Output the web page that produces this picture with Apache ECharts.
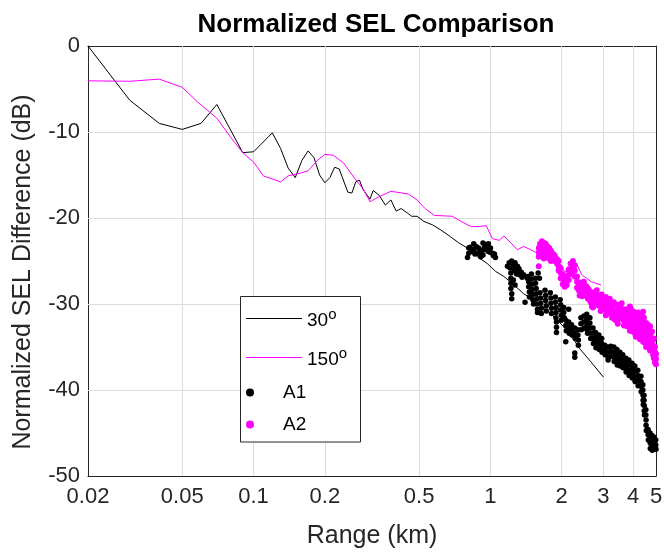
<!DOCTYPE html>
<html><head><meta charset="utf-8">
<script src="https://cdn.jsdelivr.net/npm/echarts@6/dist/echarts.min.js"></script>
<style>html,body{margin:0;padding:0;background:#fff}#c{width:664px;height:552px}</style>
</head><body><div id="c"></div>
<script>
const xTicks = [0.02, 0.05, 0.1, 0.2, 0.5, 1, 2, 3, 4, 5];
const xTickLabels = ['0.02', '0.05', '0.1', '0.2', '0.5', '1', '2', '3', '4', '5'];
const yTicks = [-50, -40, -30, -20, -10, 0];

const line30 = [[0.02,0],[0.03,-6.3],[0.04,-9.0],[0.05,-9.7],[0.06,-9.0],[0.07,-6.8],[0.09,-12.4],[0.10,-12.3],[0.12,-10.1],[0.13,-11.9],[0.14,-14.2],[0.15,-15.3],[0.16,-13.3],[0.17,-12.2],[0.18,-13.0],[0.19,-15.0],[0.20,-15.9],[0.21,-15.3],[0.22,-14.1],[0.23,-14.3],[0.25,-17.0],[0.26,-17.1],[0.27,-15.8],[0.28,-15.6],[0.29,-16.7],[0.31,-17.8],[0.32,-16.8],[0.34,-17.4],[0.36,-18.5],[0.38,-17.9],[0.40,-19.2],[0.42,-18.9],[0.445,-19.4],[0.465,-19.8],[0.49,-19.8],[0.524,-20.4],[0.57,-20.8],[0.618,-21.4],[0.68,-22.2],[0.736,-22.9],[0.80,-23.5],[0.88,-24.5],[0.97,-25.3],[1.05,-26.2],[1.14,-26.8],[1.26,-27.8],[1.38,-28.8],[1.52,-29.5],[1.68,-30.5],[1.86,-31.5],[2.03,-32.6],[2.20,-33.8],[2.40,-35.3],[2.65,-36.7],[3.0,-38.5]];

const line150 = [[0.02,-4.05],[0.03,-4.1],[0.04,-3.85],[0.05,-4.8],[0.058,-6.5],[0.07,-8.4],[0.08,-10.6],[0.09,-12.4],[0.10,-13.5],[0.11,-15.1],[0.13,-15.8],[0.14,-15.1],[0.157,-14.8],[0.17,-14.5],[0.186,-13.3],[0.20,-12.6],[0.217,-12.7],[0.24,-13.6],[0.264,-15.2],[0.29,-16.6],[0.31,-18.1],[0.34,-17.5],[0.38,-16.9],[0.45,-17.2],[0.49,-17.9],[0.53,-18.9],[0.58,-19.7],[0.69,-19.8],[0.75,-20.4],[0.83,-21.0],[0.88,-21.0],[0.96,-20.9],[1.02,-22.4],[1.09,-22.6],[1.14,-22.1],[1.22,-22.9],[1.30,-23.7],[1.38,-23.3],[1.48,-23.7],[1.58,-24.1],[1.74,-24.5],[1.89,-24.9],[2.06,-26.2],[2.20,-26.4],[2.31,-25.3],[2.43,-26.6],[2.66,-27.4],[2.93,-27.8]];

const a1 = [
[0.80,-24.6],[0.81,-23.5],[0.81,-24.1],[0.82,-23.4],[0.83,-23.9],[0.85,-23.0],[0.85,-23.7],[0.86,-24.2],[0.87,-23.3],[0.88,-24.1],[0.89,-23.5],[0.90,-24.0],[0.91,-24.5],[0.92,-23.8],[0.93,-22.9],[0.93,-24.3],[0.94,-23.5],[0.95,-23.1],[0.96,-23.7],[0.97,-23.4],[0.98,-23.0],[0.98,-23.9],[1.00,-24.0],[1.00,-23.5],[1.02,-24.1],[1.03,-24.4],[1.04,-24.2],[1.05,-24.6],
[1.18,-25.6],[1.20,-25.2],[1.21,-25.8],[1.22,-26.4],[1.22,-27.0],[1.22,-27.6],[1.22,-28.2],[1.23,-28.8],[1.23,-29.4],[1.23,-25.0],[1.25,-25.5],[1.26,-26.1],[1.27,-25.2],[1.28,-25.8],[1.29,-26.5],[1.30,-25.6],[1.31,-26.2],[1.32,-25.9],[1.33,-26.6],[1.35,-26.3],[1.36,-26.9],[1.25,-27.2],[1.27,-27.8],[1.38,-26.6],[1.40,-29.8],[1.43,-27.0],
[1.44,-26.8],[1.45,-27.4],[1.45,-28.0],[1.46,-28.6],[1.46,-29.2],
[1.49,-26.5],[1.49,-27.1],[1.50,-27.7],[1.50,-28.3],[1.51,-28.9],[1.51,-29.5],[1.52,-30.0],
[1.55,-27.0],[1.55,-27.6],[1.56,-28.2],[1.56,-28.8],[1.57,-29.4],[1.57,-30.0],[1.58,-30.6],[1.58,-31.0],
[1.59,-26.4],[1.61,-27.0],
[1.62,-28.7],[1.63,-29.3],[1.63,-29.9],[1.64,-30.5],[1.64,-31.1],
[1.70,-28.4],[1.71,-29.0],[1.71,-29.6],[1.72,-30.2],[1.72,-30.8],
[1.79,-28.7],[1.80,-29.3],[1.80,-29.9],[1.81,-30.5],[1.81,-31.1],
[1.88,-29.2],[1.88,-29.8],[1.89,-30.4],[1.89,-31.0],[1.89,-31.6],[1.90,-32.1],[1.90,-32.7],[1.90,-33.3],
[1.97,-29.5],[1.98,-30.1],[1.98,-30.7],[1.99,-31.3],[1.99,-31.9],
[2.04,-30.4],[2.04,-31.0],[2.05,-31.6],
[2.08,-31.9],[2.08,-32.5],[2.09,-33.1],[2.08,-34.4],
[2.14,-30.6],[2.14,-32.1],[2.14,-32.7],[2.15,-33.4],
[2.20,-32.4],[2.20,-33.0],[2.21,-33.6],
[2.27,-32.8],[2.27,-33.4],[2.28,-34.0],[2.27,-35.7],[2.27,-36.2],
[2.34,-33.0],[2.34,-33.6],[2.35,-34.2],[2.35,-34.8],
[2.41,-31.6],[2.41,-32.3],[2.42,-33.0],
[2.48,-31.4],[2.48,-32.1],[2.49,-32.8],
[2.55,-31.2],[2.55,-31.8],[2.56,-32.4],[2.56,-33.0],[2.57,-33.4],
[2.63,-31.6],[2.63,-32.2],[2.64,-32.8],[2.64,-33.4],[2.65,-34.0],
[2.71,-32.8],[2.71,-33.4],[2.72,-34.0],[2.72,-34.6],
[2.78,-33.3],[2.78,-33.9],[2.79,-34.5],[2.79,-35.1],
[2.87,-33.6],[2.87,-34.2],[2.88,-34.8],[2.88,-35.3],
[2.95,-34.0],[2.95,-34.6],[2.96,-35.2],[2.96,-35.6],
[3.04,-34.8],[3.04,-35.4],[3.05,-35.9],
[3.13,-35.0],[3.13,-35.6],[3.14,-36.2],[3.14,-36.5],
[3.22,-34.9],[3.22,-35.5],[3.23,-36.1],
[3.32,-35.0],[3.32,-35.6],[3.33,-36.2],[3.33,-36.7],
[3.42,-35.3],[3.42,-35.9],[3.43,-36.5],[3.43,-37.1],
[3.52,-35.6],[3.52,-36.2],[3.53,-36.8],[3.53,-37.2],
[3.62,-35.9],[3.62,-36.5],[3.63,-37.1],[3.63,-37.4],
[3.73,-36.3],[3.73,-36.9],[3.74,-37.5],[3.74,-37.9],
[3.84,-36.5],[3.84,-37.1],[3.85,-37.7],[3.85,-38.3],
[3.96,-36.9],[3.96,-37.5],[3.97,-38.1],[3.97,-38.6],
[4.07,-37.2],[4.07,-37.8],[4.08,-38.4],[4.08,-39.0],
[4.19,-37.7],[4.19,-38.3],[4.20,-38.9],[4.20,-39.5],
[4.32,-38.4],[4.32,-39.0],[4.33,-39.6],[4.33,-40.2],
[4.40,-39.4],[4.40,-40.0],[4.41,-40.6],[4.41,-41.2],[4.42,-41.7],
[4.45,-40.6],[4.45,-41.2],[4.46,-41.8],[4.46,-42.4],[4.47,-42.9],
[4.53,-42.3],[4.53,-42.9],[4.54,-43.5],[4.54,-44.1],[4.55,-44.7],
[4.63,-44.6],[4.63,-45.2],[4.64,-45.8],
[4.72,-45.0],[4.72,-45.6],[4.73,-46.2],[4.73,-46.8],
[4.81,-45.3],[4.81,-45.9],[4.82,-46.5],[4.82,-47.0],
[4.91,-45.5],[4.91,-46.1],[4.92,-46.7],
[4.99,-45.8],[4.99,-46.4],[5.00,-46.9]
];

const a2 = [
[1.60,-23.5],[1.60,-24.0],[1.60,-24.5],[1.60,-25.6],
[1.62,-23.0],[1.62,-23.6],[1.62,-24.2],
[1.65,-22.7],[1.65,-23.2],[1.65,-23.8],[1.65,-24.4],
[1.68,-22.9],[1.68,-23.5],[1.68,-24.1],[1.68,-24.7],
[1.71,-23.0],[1.71,-23.6],[1.71,-24.2],
[1.74,-23.3],[1.74,-23.9],[1.74,-24.5],
[1.77,-23.5],[1.77,-24.1],[1.77,-24.7],
[1.80,-23.8],[1.80,-24.4],[1.80,-25.0],
[1.84,-24.2],[1.84,-24.8],
[1.87,-24.4],[1.87,-25.0],
[1.91,-24.8],[1.91,-25.3],
[1.94,-25.0],[1.94,-25.6],[1.94,-26.1],
[1.98,-25.8],[1.98,-26.4],[1.98,-27.0],
[2.02,-26.5],[2.02,-27.1],[2.02,-27.7],
[2.06,-27.0],[2.06,-27.6],[2.06,-28.0],
[2.10,-26.8],[2.10,-27.3],[2.10,-27.8],
[2.14,-26.0],[2.14,-26.6],[2.14,-27.2],
[2.18,-25.3],[2.18,-25.9],[2.18,-26.5],
[2.23,-25.0],[2.23,-25.6],[2.23,-26.2],
[2.27,-25.5],[2.27,-26.1],[2.27,-26.8],
[2.32,-26.8],[2.32,-27.4],[2.32,-28.1],
[2.36,-27.8],[2.36,-28.4],[2.38,-29.0],[2.39,-27.5],
[2.41,-28.0],[2.41,-28.6],[2.44,-29.1],
[2.46,-28.0],[2.46,-28.6],[2.48,-27.4],
[2.50,-27.8],[2.50,-28.4],[2.52,-29.0],
[2.55,-28.0],[2.55,-28.6],[2.58,-29.4],
[2.60,-28.3],[2.60,-28.9],[2.60,-29.4],
[2.65,-28.6],[2.65,-29.2],[2.65,-29.8],[2.68,-30.3],
[2.71,-28.8],[2.71,-29.4],[2.71,-30.0],[2.71,-30.4],
[2.76,-28.6],[2.76,-29.2],[2.76,-29.8],
[2.81,-28.4],[2.81,-29.0],[2.81,-29.6],
[2.87,-29.0],[2.87,-29.6],[2.87,-30.2],
[2.92,-29.6],[2.92,-30.2],[2.92,-30.8],[2.95,-28.9],
[2.98,-29.4],[2.98,-29.9],[2.98,-30.4],
[3.04,-29.6],[3.04,-30.1],[3.04,-30.6],[3.07,-29.2],[3.07,-31.3],
[3.10,-30.2],[3.10,-30.7],[3.10,-31.2],
[3.16,-29.8],[3.16,-30.3],[3.16,-30.8],[3.19,-29.4],
[3.22,-30.0],[3.22,-30.5],[3.22,-31.0],[3.26,-31.6],
[3.29,-30.3],[3.29,-30.9],[3.29,-31.4],[3.32,-29.8],
[3.35,-30.8],[3.35,-31.3],[3.35,-31.8],
[3.42,-31.0],[3.42,-31.5],[3.42,-32.0],[3.45,-30.1],[3.45,-32.3],
[3.48,-30.6],[3.48,-31.1],[3.48,-31.6],
[3.55,-30.4],[3.55,-30.9],[3.55,-31.4],[3.58,-29.9],
[3.62,-30.8],[3.62,-31.3],[3.62,-31.8],[3.66,-32.5],
[3.69,-31.2],[3.69,-31.7],[3.69,-32.2],[3.72,-30.6],
[3.77,-31.6],[3.77,-32.1],[3.77,-32.6],
[3.84,-31.0],[3.84,-31.7],[3.84,-32.4],[3.88,-30.3],[3.88,-33.1],
[3.92,-30.6],[3.92,-31.2],[3.92,-31.8],[3.92,-32.4],[3.92,-33.0],
[3.99,-31.4],[3.99,-32.0],[3.99,-32.6],[3.99,-33.2],[4.03,-30.9],
[4.07,-31.5],[4.07,-32.1],[4.07,-32.7],[4.07,-33.4],[4.11,-33.8],
[4.15,-31.6],[4.15,-32.2],[4.15,-32.8],[4.15,-33.3],[4.20,-31.0],
[4.24,-31.5],[4.24,-32.1],[4.24,-32.7],[4.24,-33.5],[4.28,-31.2],[4.28,-34.1],
[4.32,-32.0],[4.32,-32.6],[4.32,-33.2],[4.32,-33.8],
[4.41,-30.9],[4.41,-31.5],[4.41,-32.1],[4.41,-32.7],[4.41,-33.3],[4.41,-33.9],[4.41,-34.4],[4.45,-31.6],
[4.49,-32.6],[4.49,-33.2],[4.49,-33.8],[4.49,-34.5],[4.54,-32.2],[4.54,-35.0],
[4.58,-32.8],[4.58,-33.4],[4.58,-34.0],[4.58,-34.6],[4.62,-32.4],
[4.67,-33.0],[4.67,-33.6],[4.67,-34.2],[4.67,-34.8],[4.72,-32.6],[4.72,-35.4],
[4.76,-33.4],[4.76,-34.0],[4.76,-34.6],[4.76,-35.1],[4.81,-33.2],
[4.86,-34.2],[4.86,-34.8],[4.86,-35.4],[4.86,-35.9],[4.90,-34.0],[4.90,-36.3],
[4.95,-35.0],[4.95,-35.6],[4.95,-36.2],[4.95,-36.8],
[5.00,-35.8],[5.00,-36.4],[5.00,-37.0]
];

const FONT = '"Liberation Sans", Arial, Helvetica, sans-serif';
const AX = '#262626';
const GRIDC = '#dcdcdc';

const chart = echarts.init(document.getElementById('c'), null, {renderer: 'canvas'});

function xLabel(v) {
  for (let i = 0; i < xTicks.length; i++) {
    if (Math.abs(v - xTicks[i]) < 1e-6 * xTicks[i]) return xTickLabels[i];
  }
  return '';
}

const legendText = {fontFamily: FONT, fontSize: 19, color: '#000',
  rich: {
    n: {fontFamily: FONT, fontSize: 19, lineHeight: 19, verticalAlign: 'bottom', padding: [9, 0, 0, 0], color: '#000'},
    s: {fontFamily: FONT, fontSize: 15, lineHeight: 23, verticalAlign: 'top', color: '#000'}
  }};
function legendFmt(name) {
  if (name.indexOf('°') >= 0) return '{n|' + name.replace('°', '') + '}{s|o}';
  return name;
}
const legendBase = {orient: 'vertical', left: 246, itemWidth: 56, itemGap: 0, padding: 0,
  selectedMode: false, textStyle: legendText, formatter: legendFmt, z: 5};

// grid lines drawn at the tick values
const vGrid = xTicks.slice(1, -1).map(v => ({xAxis: v}));
const hGrid = yTicks.slice(1, -1).map(v => ({yAxis: v}));

const option = {
  animation: false,
  backgroundColor: '#fff',
  title: {
    text: 'Normalized SEL Comparison', left: 371, top: 7, textAlign: 'center',
    textStyle: {fontFamily: FONT, fontSize: 26, fontWeight: 'bold', color: '#000'}
  },
  grid: {left: 88, right: 8, top: 46, bottom: 76, containLabel: false, outerBoundsMode: 'none'},
  legend: [
    Object.assign({}, legendBase, {top: 302, itemHeight: 1, data: [{name: '30°', icon: 'rect'}]}),
    Object.assign({}, legendBase, {top: 341, itemHeight: 1, data: [{name: '150°', icon: 'rect'}]}),
    Object.assign({}, legendBase, {top: 383, itemHeight: 8, data: [{name: 'A1', icon: 'circle'}]}),
    Object.assign({}, legendBase, {top: 415, itemHeight: 8, data: [{name: 'A2', icon: 'circle'}]})
  ],
  graphic: [{
    type: 'rect', z: 3, silent: true,
    shape: {x: 240.5, y: 296.5, width: 120, height: 145.5},
    style: {fill: '#fff', stroke: AX, lineWidth: 1}
  }],
  xAxis: [{
    type: 'log', logBase: 10, min: 0.02, max: 5,
    name: 'Range (km)', nameLocation: 'middle', nameGap: 48,
    nameTextStyle: {fontFamily: FONT, fontSize: 25, color: AX},
    axisLine: {onZero: false, lineStyle: {color: AX, width: 1}},
    axisTick: {inside: true, length: 6, lineStyle: {color: AX}, customValues: xTicks},
    axisLabel: {customValues: xTicks, formatter: xLabel, fontFamily: FONT, fontSize: 22, color: AX, margin: 10, showMinLabel: true, showMaxLabel: true},
    splitLine: {show: false},
    minorTick: {show: false}, minorSplitLine: {show: false}
  }, {
    type: 'log', logBase: 10, min: 0.02, max: 5, position: 'top',
    axisLine: {onZero: false, lineStyle: {color: AX, width: 1}},
    axisTick: {inside: true, length: 6, lineStyle: {color: AX}, customValues: xTicks},
    axisLabel: {show: false, customValues: xTicks},
    splitLine: {show: false}
  }],
  yAxis: [{
    type: 'value', min: -50, max: 0, interval: 10,
    name: 'Normalized SEL Difference (dB)', nameLocation: 'middle', nameGap: 52,
    nameTextStyle: {fontFamily: FONT, fontSize: 25, color: AX, padding: [0, 22, 0, 0]},
    axisLine: {show: true, onZero: false, lineStyle: {color: AX, width: 1}},
    axisTick: {show: true, inside: true, length: 6, lineStyle: {color: AX}},
    axisLabel: {fontFamily: FONT, fontSize: 22, color: AX, margin: 8},
    splitLine: {show: false}
  }, {
    type: 'value', min: -50, max: 0, interval: 10, position: 'right',
    axisLine: {show: true, onZero: false, lineStyle: {color: AX, width: 1}},
    axisTick: {show: true, inside: true, length: 6, lineStyle: {color: AX}},
    axisLabel: {show: false},
    splitLine: {show: false}
  }],
  series: [
    {name: 'grid', type: 'line', data: [], silent: true, z: 1,
     markLine: {z: 1, silent: true, symbol: ['none', 'none'], label: {show: false},
       lineStyle: {color: GRIDC, width: 1, type: 'solid'},
       emphasis: {disabled: true},
       data: vGrid.concat(hGrid)}},
    {name: '30°', type: 'line', data: line30, symbol: 'none', lineStyle: {color: '#000', width: 1}, itemStyle: {color: '#000'}, z: 2},
    {name: '150°', type: 'line', data: line150, symbol: 'none', lineStyle: {color: '#ff00ff', width: 1}, itemStyle: {color: '#ff00ff'}, z: 2},
    {name: 'A1', type: 'scatter', data: a1, symbol: 'circle', symbolSize: 5.5, itemStyle: {color: '#000', opacity: 1}, z: 2},
    {name: 'A2', type: 'scatter', data: a2, symbol: 'circle', symbolSize: 6, itemStyle: {color: '#ff00ff', opacity: 1}, z: 2}
  ]
};
chart.setOption(option);
</script>
</body></html>
